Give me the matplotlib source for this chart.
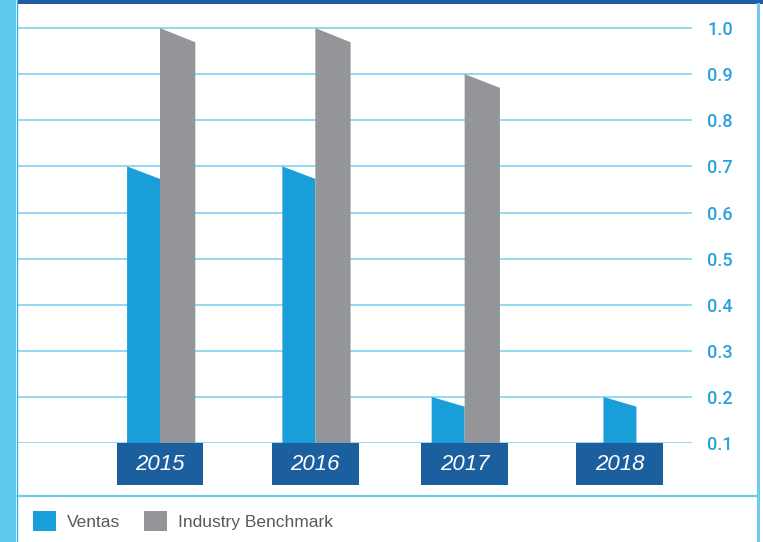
import matplotlib
matplotlib.use("Agg")
import matplotlib.pyplot as plt
from matplotlib.patches import Polygon, Rectangle, Patch
from matplotlib.lines import Line2D

years = ["2015", "2016", "2017", "2018"]
ventas = [0.7, 0.7, 0.2, 0.2]
benchmark = [1.0, 1.0, 0.9, None]
ticks = [0.1, 0.2, 0.3, 0.4, 0.5, 0.6, 0.7, 0.8, 0.9, 1.0]

BLUE = "#1a9ed9"
GREY = "#939598"
DARK = "#1c5f9e"
GRID = "#8ad6f2"
LABEL = "#27a2dc"

W, H = 763, 542
fig = plt.figure(figsize=(W / 100, H / 100), dpi=100)
ax = fig.add_axes([17 / W, 99 / H, 675 / W, 439 / H])

base = 0.1
ax.set_ylim(base, base + 439 / 461)
ax.set_xlim(-0.933, 3.47)
blue_w, grey_w = 0.215, 0.23
xpos = [0, 1.013, 1.987, 3.0]


def slanted_bar(x0, x1, top, color):
    # bar with a top edge that drops slightly to the right
    drop = 0.02 + 0.012 * (top - base)
    pts = [(x0, base), (x0, top), (x1, top - drop), (x1, base)]
    ax.add_patch(Polygon(pts, closed=True, facecolor=color, edgecolor="none", zorder=3))


for i, (v, b) in enumerate(zip(ventas, benchmark)):
    x = xpos[i]
    if b is None:
        slanted_bar(x - blue_w / 2, x + blue_w / 2, v, BLUE)
    else:
        slanted_bar(x - blue_w, x, v, BLUE)
        slanted_bar(x, x + grey_w, b, GREY)
    # year tag below the baseline
    box_w, box_h = 0.567, 42 / 461
    ax.add_patch(Rectangle((x - box_w / 2, base - box_h), box_w, box_h,
                           facecolor=DARK, edgecolor="none", clip_on=False, zorder=4))
    ax.text(x, base - box_h / 2, years[i], color="white", fontsize=16, style="italic",
            family="Liberation Sans", ha="center", va="center", zorder=5)

ax.set_yticks(ticks)
ax.set_yticklabels([f"{t:.1f}" for t in ticks])
ax.yaxis.tick_right()
ax.tick_params(axis="y", length=0, pad=11, labelsize=13, labelcolor=LABEL)
for lbl in ax.get_yticklabels():
    lbl.set_family("Roboto")
    lbl.set_fontweight("medium")
ax.set_xticks([])
ax.grid(axis="y", color=GRID, linewidth=1.3, zorder=1)
for s in ax.spines.values():
    s.set_visible(False)

# frame pieces around the chart
fig.patches.append(Rectangle((0, 0), 16 / W, 1, transform=fig.transFigure,
                             facecolor="#5ec8ee", edgecolor="none"))
fig.lines.append(Line2D([16.5 / W, 16.5 / W], [0, 1], transform=fig.transFigure,
                        color="#35b1e6", linewidth=1))
fig.patches.append(Rectangle((17 / W, (H - 4) / H), 1, 4 / H, transform=fig.transFigure,
                             facecolor="#1e5f9e", edgecolor="none"))
fig.lines.append(Line2D([758 / W, 758 / W], [0, 1 - 4 / H], transform=fig.transFigure,
                        color="#6ecbef", linewidth=2.2))
fig.lines.append(Line2D([17 / W, 758 / W], [(H - 496) / H] * 2, transform=fig.transFigure,
                        color="#6ecbef", linewidth=1.6))

handles = [Patch(facecolor=BLUE), Patch(facecolor=GREY)]
fig.legend(handles, ["Ventas", "Industry Benchmark"], loc="center left",
           bbox_to_anchor=(33 / W, (H - 521) / H), ncol=2, frameon=False,
           borderpad=0, borderaxespad=0, handlelength=1.32, handleheight=1.32,
           handletextpad=0.63, columnspacing=1.38,
           prop={"family": "Liberation Sans", "size": 12.5}, labelcolor="#58595b")

fig.savefig("out.png", dpi=100)
